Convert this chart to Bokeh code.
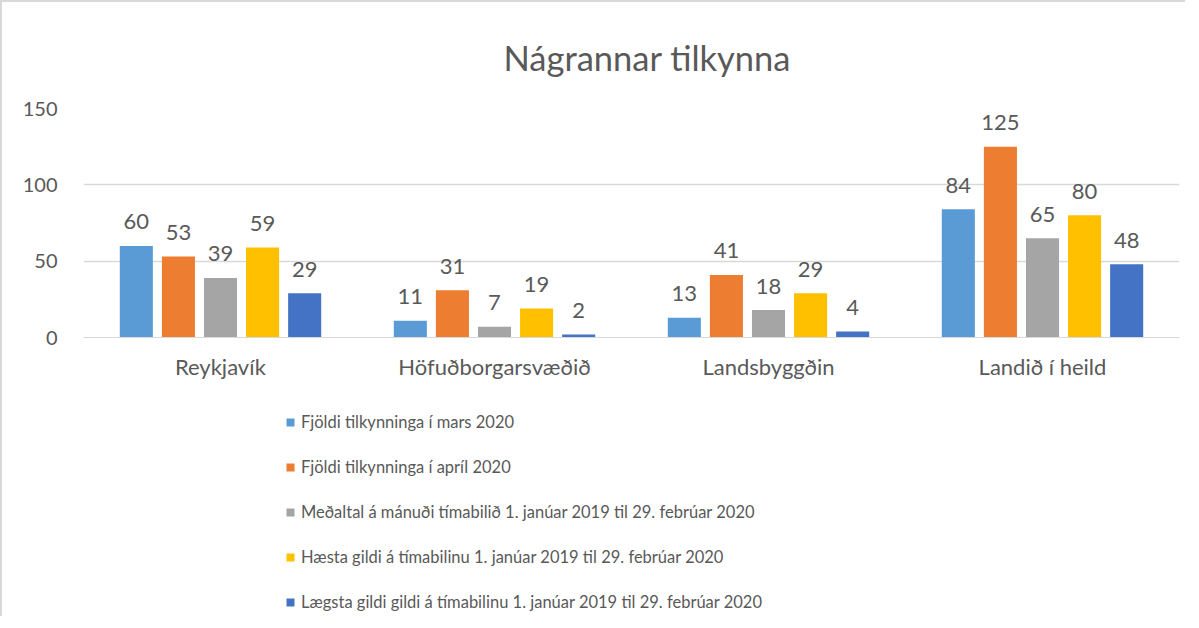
from bokeh.plotting import figure
from bokeh.layouts import column
from bokeh.models import ColumnDataSource, Range1d, FactorRange, Legend, LegendItem, Title
from bokeh.transform import dodge
from bokeh.core.properties import value
from bokeh.embed import file_html
from bokeh.resources import INLINE

categories = ["Reykjavík", "Höfuðborgarsvæðið", "Landsbyggðin", "Landið í heild"]
series_names = [
    "Fjöldi tilkynninga í mars 2020",
    "Fjöldi tilkynninga í apríl 2020",
    "Meðaltal á mánuði tímabilið 1. janúar 2019 til 29. febrúar 2020",
    "Hæsta gildi á tímabilinu 1. janúar 2019 til 29. febrúar 2020",
    "Lægsta gildi gildi á tímabilinu 1. janúar 2019 til 29. febrúar 2020",
]
mars_2020 = [60, 11, 13, 84]
april_2020 = [53, 31, 41, 125]
medaltal = [39, 7, 18, 65]
haesta = [59, 19, 29, 80]
laegsta = [29, 2, 4, 48]
y_ticks = [0, 50, 100, 150]

series_values = [mars_2020, april_2020, medaltal, haesta, laegsta]
colors = ["#5B9BD5", "#ED7D31", "#A5A5A5", "#FFC000", "#4472C4"]
FONT = "Lato"
TXT = "#595959"

p = figure(
    x_range=FactorRange(*categories, range_padding=0),
    y_range=Range1d(0, 150),
    width=1183, height=400,
    output_backend="svg", toolbar_location=None,
    min_border_left=81, min_border_right=6, min_border_top=106, min_border_bottom=65,
)
p.outline_line_color = None
p.xgrid.grid_line_color = None
p.ygrid.grid_line_color = "#D9D9D9"
p.ygrid.grid_line_width = 1.3
p.yaxis.ticker = y_ticks
p.yaxis.axis_line_color = None
p.yaxis.major_tick_line_color = None
p.yaxis.minor_tick_line_color = None
p.yaxis.major_label_text_font = FONT
p.yaxis.major_label_text_font_size = "20px"
p.yaxis.major_label_text_color = TXT
p.yaxis.major_label_standoff = 20
p.xaxis.axis_line_color = "#D9D9D9"
p.xaxis.major_tick_line_color = None
p.xaxis.minor_tick_line_color = None
p.xaxis.major_label_text_font = FONT
p.xaxis.major_label_text_font_size = "22px"
p.xaxis.major_label_text_color = TXT
p.xaxis.major_label_standoff = 9

title = Title(text="Nágrannar tilkynna", align="left", offset=420, standoff=62,
              text_font=FONT, text_font_size="34.5px", text_color=TXT, text_font_style="normal")
p.add_layout(title, "above")

step = 0.1536
bw = 0.1207
for i, (vals, col) in enumerate(zip(series_values, colors)):
    src = ColumnDataSource(dict(cat=categories, val=vals, lab=[str(v) for v in vals]))
    off = (i - 2) * step
    p.vbar(x=dodge("cat", off, range=p.x_range), top="val", width=bw, source=src,
           fill_color=col, line_color=None)
    p.text(x=dodge("cat", off, range=p.x_range), y="val", text="lab", source=src,
           text_align="center", text_baseline="alphabetic", y_offset=-24,
           text_font=value(FONT), text_font_size="22px", text_color=TXT)

# legend panel
p2 = figure(width=1183, height=214, output_backend="svg", toolbar_location=None,
            x_range=Range1d(0, 1), y_range=Range1d(0, 1),
            min_border=0, x_axis_type=None, y_axis_type=None)
p2.outline_line_color = None
p2.xgrid.grid_line_color = None
p2.ygrid.grid_line_color = None
items = []
for name, col in zip(series_names, colors):
    r = p2.rect(x=[5], y=[5], width=1, height=1, fill_color=col, line_color=None)
    items.append(LegendItem(label=name, renderers=[r]))
legend = Legend(items=items, location=(202, 3), orientation="vertical",
                glyph_width=10, glyph_height=10, label_height=23, spacing=22,
                label_standoff=6, padding=0, margin=0,
                border_line_color=None, background_fill_alpha=0,
                label_text_font=FONT, label_text_font_size="16.5px", label_text_color=TXT)
p2.add_layout(legend, "center")

layout = column(p, p2, spacing=0)
layout.styles = {"border-left": "2px solid #D9D9D9", "border-top": "2px solid #D9D9D9"}

open("out.html", "w").write(file_html(layout, INLINE))
